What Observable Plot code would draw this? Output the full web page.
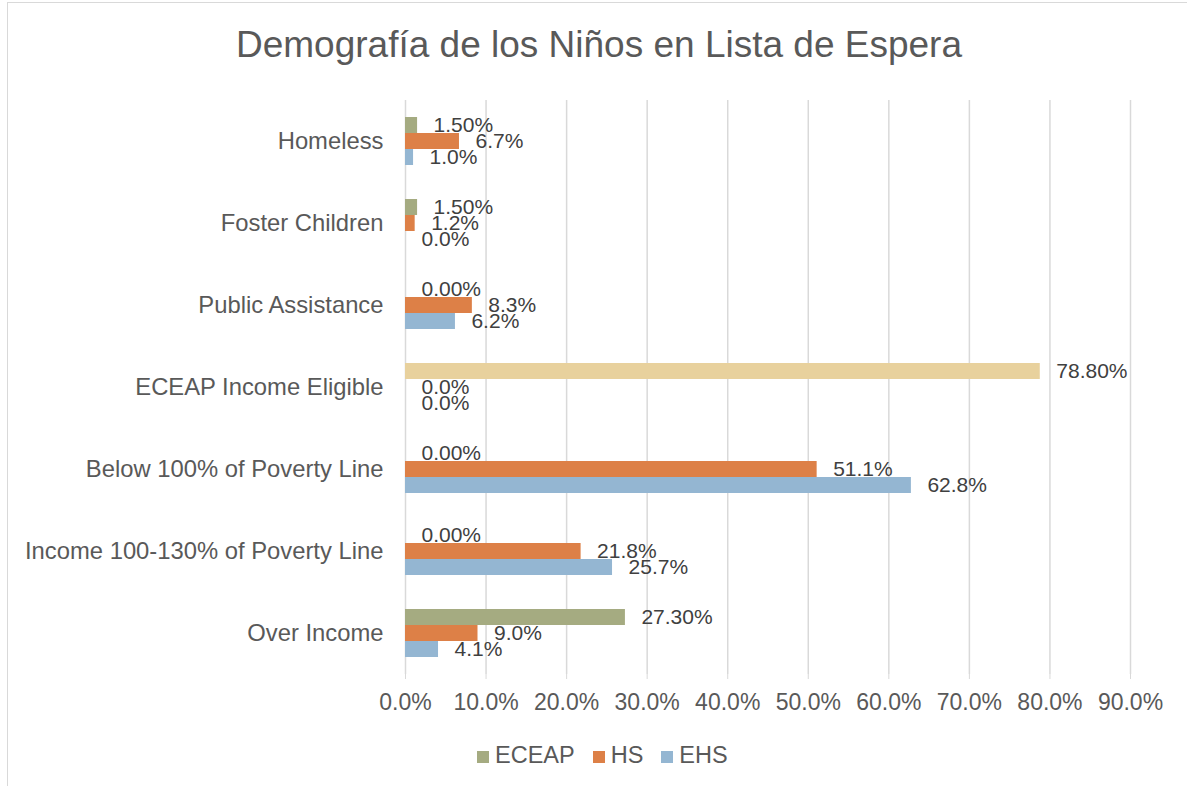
<!DOCTYPE html>
<html>
<head>
<meta charset="utf-8">
<script src="https://cdn.jsdelivr.net/npm/d3@7"></script>
<script src="https://cdn.jsdelivr.net/npm/@observablehq/plot@0.6"></script>
<style>
  html, body { margin: 0; padding: 0; background: white; }
  body { width: 1187px; height: 786px; position: relative; overflow: hidden; font-family: "Liberation Sans", Arial, sans-serif; }
  #frame { position: absolute; left: 7px; top: 2px; width: 1200px; height: 800px; border: 1px solid #d9d9d9; box-sizing: border-box; z-index: 5; pointer-events: none; }
  #title { position: absolute; left: 0; width: 1198px; top: 26px; text-align: center; font-size: 37px; line-height: 37px; color: #595959; white-space: nowrap; }
  #chart { position: absolute; left: 0; top: 90px; }
  #legend { position: absolute; left: 477px; top: 744px; display: flex; align-items: center; font-size: 23.5px; line-height: 23px; color: #595959; }
  .item { display: flex; align-items: center; margin-right: 18px; }
  .sw { width: 12px; height: 12px; margin-right: 6px; margin-top: 2px; }
</style>
</head>
<body>
<div id="frame"></div>
<div id="title">Demografía de los Niños en Lista de Espera</div>
<div id="chart"></div>
<div id="legend"></div>
<script>
const categories = [
  "Homeless",
  "Foster Children",
  "Public Assistance",
  "ECEAP Income Eligible",
  "Below 100% of Poverty Line",
  "Income 100-130% of Poverty Line",
  "Over Income"
];
const seriesNames = ["ECEAP", "HS", "EHS"];
const eceapValues = [1.50, 1.50, 0.00, 78.80, 0.00, 0.00, 27.30];
const hsValues = [6.7, 1.2, 8.3, 0.0, 51.1, 21.8, 9.0];
const ehsValues = [1.0, 0.0, 6.2, 0.0, 62.8, 25.7, 4.1];
const xTicks = [0, 0.1, 0.2, 0.3, 0.4, 0.5, 0.6, 0.7, 0.8, 0.9];
const seriesColors = {ECEAP: "#a5ab81", HS: "#dd8047", EHS: "#94b6d2"};
const highlightCategory = "ECEAP Income Eligible";
const highlightColor = "#e8d19d";

const valuesBySeries = {ECEAP: eceapValues, HS: hsValues, EHS: ehsValues};
const decimals = {ECEAP: 2, HS: 1, EHS: 1};
const rows = [];
categories.forEach((c, i) => {
  seriesNames.forEach(s => {
    const v = valuesBySeries[s][i];
    rows.push({
      category: c,
      series: s,
      value: v / 100,
      label: v.toFixed(decimals[s]) + "%",
      color: (s === "ECEAP" && c === highlightCategory) ? highlightColor : seriesColors[s]
    });
  });
});

const chart = Plot.plot({
  width: 1187,
  height: 634,
  marginLeft: 405,
  marginRight: 57,
  marginTop: 10,
  marginBottom: 50,
  style: {fontFamily: "'Liberation Sans', Arial, sans-serif", background: "transparent", color: "#595959"},
  x: {domain: [0, 0.9]},
  y: {domain: seriesNames, axis: null, paddingInner: 0, paddingOuter: 0.985},
  fy: {domain: categories, padding: 0, axis: null},
  color: {type: "identity"},
  marks: [
    Plot.ruleX(xTicks, {stroke: "#d9d9d9", strokeWidth: 1.5}),
    Plot.barX(rows, {fy: "category", y: "series", x: "value", fill: "color"}),
    Plot.text(rows, {fy: "category", y: "series", x: "value", text: "label", textAnchor: "start", dx: 16, fill: "#404040", fontSize: 21}),
    Plot.axisX({ticks: xTicks, tickSize: 5, tickPadding: 14, stroke: "#d9d9d9", fill: "#595959", fontSize: 23, label: null,
      tickFormat: d => (d * 100).toFixed(1) + "%"}),
    Plot.axisFy({anchor: "left", tickSize: 0, tickPadding: 22, fontSize: 23.8, fill: "#595959", label: null})
  ]
});
document.getElementById("chart").appendChild(chart);

const legend = document.getElementById("legend");
seriesNames.forEach(s => {
  const item = document.createElement("div");
  item.className = "item";
  const sw = document.createElement("div");
  sw.className = "sw";
  sw.style.background = seriesColors[s];
  const t = document.createElement("span");
  t.textContent = s;
  item.appendChild(sw);
  item.appendChild(t);
  legend.appendChild(item);
});
</script>
</body>
</html>
